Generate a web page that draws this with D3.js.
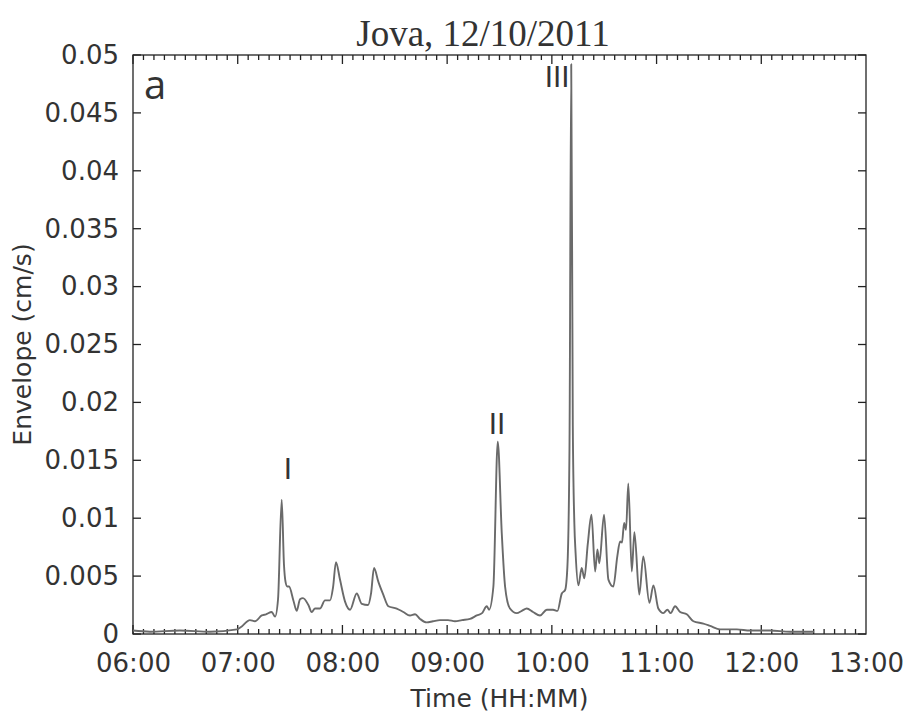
<!DOCTYPE html>
<html>
<head>
<meta charset="utf-8">
<script src="https://cdn.jsdelivr.net/npm/d3@7"></script>
<style>
  body { margin: 0; background: #fff; }
  text { fill: #333; }
</style>
</head>
<body>
<svg id="chart"></svg>
<script>
// minutes after 06:00 and envelope amplitude (cm/s)
const minutes = [0, 9.7, 26.9, 44.1, 59.6, 61.9, 67.0, 69.9, 73.8, 76.2, 79.5, 81.4, 83.1, 85.2, 86.5, 87.4,
  88.4, 89.4, 91.9, 93.8, 95.7, 97.4, 100.5, 102.4, 104.3, 107.2, 110.0, 112.9, 114.6, 116.3, 118.6, 121.5,
  124.4, 128.2, 131.1, 134.7, 136.4, 138.1, 140.6, 143.4, 146.3, 151.1, 154.9, 158.7, 161.6, 164.5, 168.3,
  171.9, 175.9, 180.5, 184.5, 188.5, 193.1, 197.0, 200.0, 202.7, 204.0, 206.5, 209.0, 211.3, 213.2, 216.0,
  219.9, 222.8, 225.6, 229.2, 233.2, 237.1, 240.7, 243.2, 245.7, 247.6, 248.9, 250.1, 251.1, 252.0, 252.9,
  253.6, 255.2, 257.1, 258.6, 260.6, 262.7, 264.8, 266.1, 267.2, 269.9, 272.4, 275.2, 277.5, 279.1, 280.2,
  281.4, 282.5, 283.8, 285.8, 287.3, 290.1, 292.4, 295.9, 298.2, 301.0, 303.9, 306.2, 308.1, 310.6, 313.5,
  317.3, 321.1, 326.8, 330.7, 336.4, 346.0, 353.6, 365.0, 376.5, 390.3];
const envelope = [0.0003, 0.0002, 0.0003, 0.0002, 0.0004, 0.0006, 0.0012, 0.0011, 0.0016, 0.0017, 0.0019, 0.0015, 0.0030, 0.0116, 0.0060, 0.0045,
  0.0041, 0.0041, 0.0029, 0.0020, 0.0030, 0.0031, 0.0025, 0.0019, 0.0022, 0.0022, 0.0029, 0.0029, 0.0040, 0.0062, 0.0047, 0.0028,
  0.0021, 0.0035, 0.0026, 0.0025, 0.0035, 0.0057, 0.0045, 0.0034, 0.0024, 0.0022, 0.0019, 0.0016, 0.0017, 0.0013, 0.0010,
  0.0011, 0.0012, 0.0012, 0.0011, 0.0012, 0.0013, 0.0016, 0.0018, 0.0024, 0.0021, 0.0041, 0.0166, 0.0087, 0.0041, 0.0022,
  0.0018, 0.0020, 0.0022, 0.0019, 0.0016, 0.0021, 0.0021, 0.0020, 0.0035, 0.0038, 0.0058, 0.0160, 0.0492, 0.0180, 0.0095,
  0.0070, 0.0042, 0.0057, 0.0048, 0.0078, 0.0103, 0.0054, 0.0073, 0.0061, 0.0103, 0.0047, 0.0041, 0.0067, 0.0080, 0.0079,
  0.0096, 0.0090, 0.0130, 0.0054, 0.0088, 0.0034, 0.0067, 0.0027, 0.0042, 0.0022, 0.0018, 0.0021, 0.0018, 0.0024, 0.0019,
  0.0017, 0.0011, 0.0009, 0.0007, 0.0004, 0.0004, 0.0003, 0.0003, 0.0002, 0.0002];

const xTickLabels = ["06:00", "07:00", "08:00", "09:00", "10:00", "11:00", "12:00", "13:00"];
const yTicks = [0, 0.005, 0.01, 0.015, 0.02, 0.025, 0.03, 0.035, 0.04, 0.045, 0.05];
const yTickLabels = ["0", "0.005", "0.01", "0.015", "0.02", "0.025", "0.03", "0.035", "0.04", "0.045", "0.05"];
const phaseLabels = ["I", "II", "III"];
const phaseMinutes = [88.8, 208.6, 243.0];
const phaseValues = [0.0134, 0.0173, 0.0472];

const width = 906, height = 719;
const plotLeft = 133, plotRight = 866, plotTop = 55, plotBottom = 634;
const sans = "DejaVu Sans";

const day = new Date(2011, 9, 12, 6, 0);
const toTime = m => new Date(day.getTime() + m * 60000);
const parseHM = d3.timeParse("%H:%M");
const hourTicks = xTickLabels.map(s => {
  const p = parseHM(s);
  return new Date(2011, 9, 12, p.getHours(), p.getMinutes());
});

const x = d3.scaleTime().domain([hourTicks[0], hourTicks[hourTicks.length - 1]]).range([plotLeft, plotRight]);
const y = d3.scaleLinear().domain([0, 0.05]).range([plotBottom, plotTop]);

const svg = d3.select('#chart').attr('width', width).attr('height', height);

const minorTicks = d3.timeMinute.every(6).range(x.domain()[0], x.domain()[1]);
const ink = '#222';

// tick labels from axes (tick lines drawn separately below)
svg.append('g').attr('transform', `translate(0,${plotBottom})`)
  .call(d3.axisBottom(x).tickValues(hourTicks).tickSize(0).tickPadding(20)
    .tickFormat((d, i) => xTickLabels[i]))
  .call(g => g.select('.domain').remove())
  .call(g => g.selectAll('text').attr('font-family', sans).attr('font-size', 26).attr('fill', '#333'));

svg.append('g').attr('transform', `translate(${plotLeft},0)`)
  .call(d3.axisLeft(y).tickValues(yTicks).tickSize(0).tickPadding(14)
    .tickFormat((d, i) => yTickLabels[i]))
  .call(g => g.select('.domain').remove())
  .call(g => g.selectAll('text').attr('font-family', sans).attr('font-size', 26).attr('fill', '#333'));

// inward ticks on all four sides
const ticks = svg.append('g').attr('stroke', ink).attr('stroke-width', 1.3);
[[plotBottom, -1], [plotTop, 1]].forEach(([yy, dir]) => {
  ticks.selectAll(null).data(minorTicks).enter().append('line')
    .attr('x1', d => x(d)).attr('x2', d => x(d))
    .attr('y1', yy).attr('y2', d => yy + dir * (d.getMinutes() === 0 ? 9 : 5));
});
[[plotLeft, 1], [plotRight, -1]].forEach(([xx, dir]) => {
  ticks.selectAll(null).data(yTicks).enter().append('line')
    .attr('y1', d => y(d)).attr('y2', d => y(d))
    .attr('x1', xx).attr('x2', xx + dir * 8);
});

// frame
svg.append('rect')
  .attr('x', plotLeft).attr('y', plotTop)
  .attr('width', plotRight - plotLeft).attr('height', plotBottom - plotTop)
  .attr('fill', 'none').attr('stroke', ink).attr('stroke-width', 1.3);

// envelope line
const series = minutes.map((m, i) => ({ t: toTime(m), v: envelope[i] }));
const line = d3.line().x(d => x(d.t)).y(d => y(d.v)).curve(d3.curveMonotoneX);
svg.append('path')
  .datum(series)
  .attr('d', line)
  .attr('fill', 'none')
  .attr('stroke', '#6a6a6a')
  .attr('stroke-width', 1.9)
  .attr('stroke-linejoin', 'round');

// phase labels
svg.selectAll('.phase')
  .data(phaseLabels)
  .enter().append('text')
  .attr('class', 'phase')
  .attr('x', (d, i) => x(toTime(phaseMinutes[i])))
  .attr('y', (d, i) => y(phaseValues[i]))
  .attr('text-anchor', 'middle')
  .attr('font-family', sans)
  .attr('font-size', 28)
  .attr('fill', '#222')
  .text(d => d);

// panel letter
svg.append('text')
  .attr('x', 144).attr('y', 99)
  .attr('font-family', 'Open Sans')
  .attr('font-size', 40)
  .attr('fill', '#111')
  .text('a');

// title
svg.append('text')
  .attr('x', 483).attr('y', 46)
  .attr('text-anchor', 'middle')
  .attr('font-family', 'Liberation Serif')
  .attr('font-size', 37)
  .attr('fill', '#222')
  .text('Jova, 12/10/2011');

// axis titles
svg.append('text')
  .attr('x', (plotLeft + plotRight) / 2).attr('y', 707)
  .attr('text-anchor', 'middle')
  .attr('font-family', sans)
  .attr('font-size', 25)
  .text('Time (HH:MM)');

svg.append('text')
  .attr('transform', `translate(31,${(plotTop + plotBottom) / 2}) rotate(-90)`)
  .attr('text-anchor', 'middle')
  .attr('font-family', sans)
  .attr('font-size', 25)
  .text('Envelope (cm/s)');
</script>
</body>
</html>
